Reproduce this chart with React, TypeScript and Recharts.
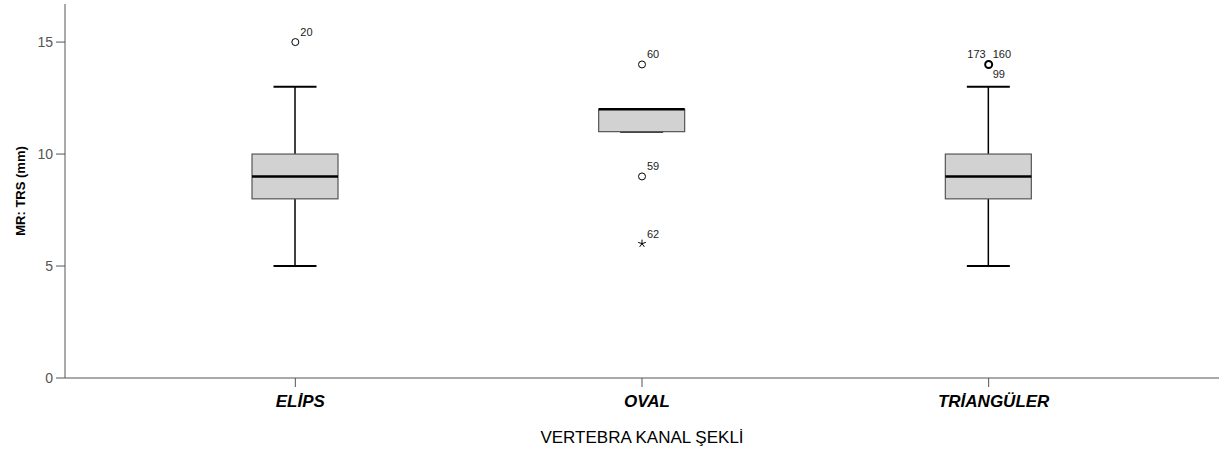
import { ComposedChart, Bar, Scatter, XAxis, YAxis } from "recharts";

const categories = ["ELİPS", "OVAL", "TRİANGÜLER"];
const mins = [5, 11, 5];
const q1s = [8, 11, 8];
const medians = [9, 12, 9];
const q3s = [10, 12, 10];
const maxs = [13, 12, 13];

const outlierCats = ["ELİPS", "OVAL", "OVAL", "OVAL", "TRİANGÜLER"];
const outlierValues = [15, 14, 9, 6, 14];
const outlierLabels = [["20"], ["60"], ["59"], ["62"], ["173", "160", "99"]];
const outlierExtreme = [false, false, false, true, false];

const yTicks = [0, 5, 10, 15];

const boxData = categories.map((name, i) => ({
  name,
  range: [mins[i], maxs[i]],
  min: mins[i],
  q1: q1s[i],
  median: medians[i],
  q3: q3s[i],
  max: maxs[i],
}));

const outlierData = outlierCats.map((name, i) => ({
  name,
  value: outlierValues[i],
  labels: outlierLabels[i],
  extreme: outlierExtreme[i],
}));

const AXIS = "#555";
const FONT = "Arial, 'Liberation Sans', sans-serif";

const BoxShape = (props: any) => {
  const { x, y, width, height, payload } = props;
  const top = Math.min(y, y + height);
  const bottom = Math.max(y, y + height);
  const span = payload.max - payload.min || 1;
  const unit = (bottom - top) / span;
  const py = (v: number) => bottom - (v - payload.min) * unit;
  const cx = x + width / 2;
  const cap = width / 4;
  return (
    <g>
      <line x1={cx} x2={cx} y1={py(payload.max)} y2={py(payload.q3)} stroke="#000" strokeWidth={1.5} />
      <line x1={cx} x2={cx} y1={py(payload.q1)} y2={py(payload.min)} stroke="#000" strokeWidth={1.5} />
      <line x1={cx - cap} x2={cx + cap} y1={py(payload.max)} y2={py(payload.max)} stroke="#000" strokeWidth={2} />
      <line x1={cx - cap} x2={cx + cap} y1={py(payload.min)} y2={py(payload.min)} stroke="#000" strokeWidth={2} />
      <rect
        x={x}
        y={py(payload.q3)}
        width={width}
        height={py(payload.q1) - py(payload.q3)}
        fill="#d2d2d2"
        stroke="#555"
        strokeWidth={1.2}
      />
      <line x1={x} x2={x + width} y1={py(payload.median)} y2={py(payload.median)} stroke="#000" strokeWidth={2.5} />
    </g>
  );
};

const OutlierShape = (props: any) => {
  const { cx, cy, payload } = props;
  const labels: string[] = payload.labels;
  const txt = { fontSize: 11, fill: "#222", fontFamily: FONT };
  const marker = payload.extreme ? (
    <g stroke="#000" strokeWidth={1}>
      {[0, 72, 144, 216, 288].map((a) => {
        const r = (a * Math.PI) / 180;
        return <line key={a} x1={cx} y1={cy} x2={cx + 4 * Math.sin(r)} y2={cy - 4 * Math.cos(r)} />;
      })}
    </g>
  ) : (
    <circle cx={cx} cy={cy} r={3.5} fill="#fff" stroke="#000" strokeWidth={labels.length > 1 ? 2 : 1} />
  );
  return (
    <g>
      {marker}
      {labels.length === 1 ? (
        <text x={cx + 5} y={cy - 6} {...txt}>{labels[0]}</text>
      ) : (
        <g>
          <text x={cx - 3} y={cy - 6} textAnchor="end" {...txt}>{labels[0]}</text>
          <text x={cx + 4} y={cy - 6} {...txt}>{labels[1]}</text>
          <text x={cx + 4} y={cy + 14} {...txt}>{labels[2]}</text>
        </g>
      )}
    </g>
  );
};

const CategoryTick = (props: any) => {
  const { x, y, payload } = props;
  return (
    <text x={x + 5} y={y} dy={18} textAnchor="middle" fontFamily={FONT} fontSize={17} fontWeight="bold" fontStyle="italic" fill="#000">
      {payload.value}
    </text>
  );
};

export default function App() {
  return (
    <div style={{ width: 1224, height: 450 }}>
      <style>{`body{margin:0}`}</style>
      <ComposedChart width={1224} height={450} data={boxData} margin={{ top: 4, right: 5, bottom: 0, left: 0 }}>
        <XAxis
          dataKey="name"
          allowDuplicatedCategory={false}
          height={72}
          padding={{ left: 57, right: 57 }}
          stroke={AXIS}
          tickSize={9}
          tick={<CategoryTick />}
          label={{ value: "VERTEBRA KANAL ŞEKLİ", position: "insideBottom", offset: 7, fill: "#000", fontSize: 17, fontFamily: FONT }}
        />
        <XAxis xAxisId="top" orientation="top" dataKey="name" allowDuplicatedCategory={false} height={0} tick={false} tickLine={false} stroke={AXIS} />
        <YAxis
          domain={[0, 16.7]}
          ticks={yTicks}
          width={65}
          stroke={AXIS}
          tickSize={9}
          tickMargin={3}
          tick={{ fontSize: 14, fill: "#555", fontFamily: FONT }}
          label={({ viewBox }: any) => (
            <text
              x={20}
              y={viewBox.y + viewBox.height / 2}
              transform={`rotate(-90, 20, ${viewBox.y + viewBox.height / 2})`}
              textAnchor="middle"
              dominantBaseline="central"
              fontFamily={FONT}
              fontSize={13}
              fontWeight="bold"
              fill="#000"
            >
              MR: TRS (mm)
            </text>
          )}
        />
        <YAxis yAxisId="right" orientation="right" domain={[0, 16.7]} width={0} tick={false} tickLine={false} stroke={AXIS} />
        <Bar dataKey="range" barSize={86} shape={<BoxShape />} isAnimationActive={false} />
        <Scatter data={outlierData} dataKey="value" shape={<OutlierShape />} isAnimationActive={false} />
      </ComposedChart>
    </div>
  );
}
